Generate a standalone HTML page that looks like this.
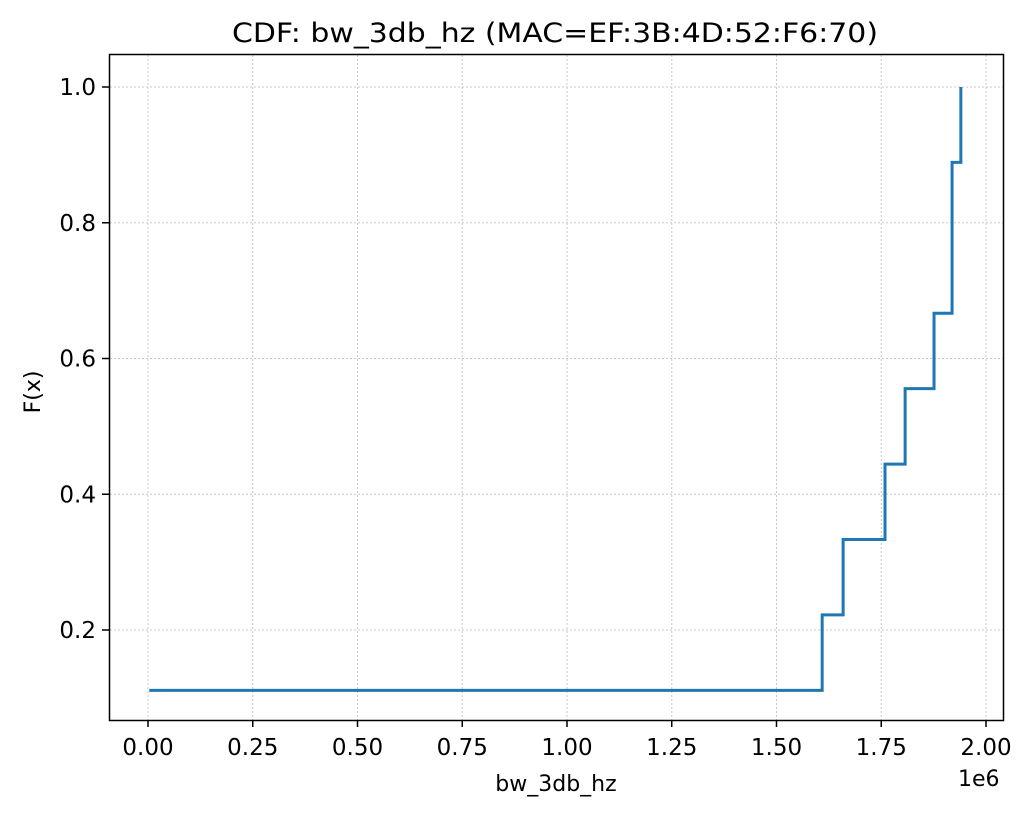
<!DOCTYPE html>
<html><head><meta charset="utf-8"><style>
body{margin:0;background:#fff;}
text{font-family:"DejaVu Sans","Liberation Sans",sans-serif;fill:#000;}
</style></head><body>
<svg id="chart" width="1031" height="815">
<text x="555" y="42" font-size="27" text-anchor="middle" textLength="646" lengthAdjust="spacingAndGlyphs">CDF: bw_3db_hz (MAC=EF:3B:4D:52:F6:70)</text>
<g id="grid"></g>
<g id="ticks"></g>
<path id="line" fill="none" stroke="#1f77b4" stroke-width="3"/>
<rect x="109.5" y="54.5" width="894" height="666" fill="none" stroke="#000" stroke-width="1.5"/>
<text x="556" y="791" font-size="22" text-anchor="middle">bw_3db_hz</text>
<text x="958" y="786" font-size="22">1e6</text>
<text transform="translate(40,392) rotate(-90)" font-size="22" text-anchor="middle">F(x)</text>
</svg>
<script>
const xValues=[0.003,1.609,1.659,1.759,1.807,1.876,1.919,1.919,1.940];
const xTicks=[0,0.25,0.5,0.75,1.0,1.25,1.5,1.75,2.0];
const xTickLabels=["0.00","0.25","0.50","0.75","1.00","1.25","1.50","1.75","2.00"];
const yTicks=[0.2,0.4,0.6,0.8,1.0];
const yTickLabels=["0.2","0.4","0.6","0.8","1.0"];
const X=v=>148+v*419;
const Y=v=>87+(1-v)*678.75;
const ns="http://www.w3.org/2000/svg";
const grid=document.getElementById('grid'),ticks=document.getElementById('ticks');
function mk(tag,attrs,parent,txt){const e=document.createElementNS(ns,tag);for(const k in attrs)e.setAttribute(k,attrs[k]);if(txt!==undefined)e.textContent=txt;parent.appendChild(e);return e;}
xTicks.forEach((t,i)=>{const x=X(t);
const g=mk('line',{x1:x,x2:x,y1:55,y2:720,stroke:'#c8c8c8','stroke-width':1,'stroke-dasharray':'2,2'},grid);


mk('line',{x1:x,x2:x,y1:720,y2:727,stroke:'#000','stroke-width':1.5},ticks);
const l=mk('text',{x:x,y:755,'font-size':23,'text-anchor':'middle'},ticks,xTickLabels[i]);


});
yTicks.forEach((t,i)=>{const y=Y(t);
const g=mk('line',{x1:110,x2:1003,y1:y,y2:y,stroke:'#c8c8c8','stroke-width':1,'stroke-dasharray':'2,2'},grid);


mk('line',{x1:102,x2:109,y1:y,y2:y,stroke:'#000','stroke-width':1.5},ticks);
const l=mk('text',{x:96,y:y+8,'font-size':23,'text-anchor':'end'},ticks,yTickLabels[i]);


});
const n=xValues.length;let d='';
xValues.forEach((v,i)=>{const f=(i+1)/n;
if(i===0)d+='M'+X(v)+','+Y(f);
else d+=' L'+X(v)+','+Y(i/n)+' L'+X(v)+','+Y(f);});
document.getElementById('line').setAttribute('d',d);
</script>
</body></html>
